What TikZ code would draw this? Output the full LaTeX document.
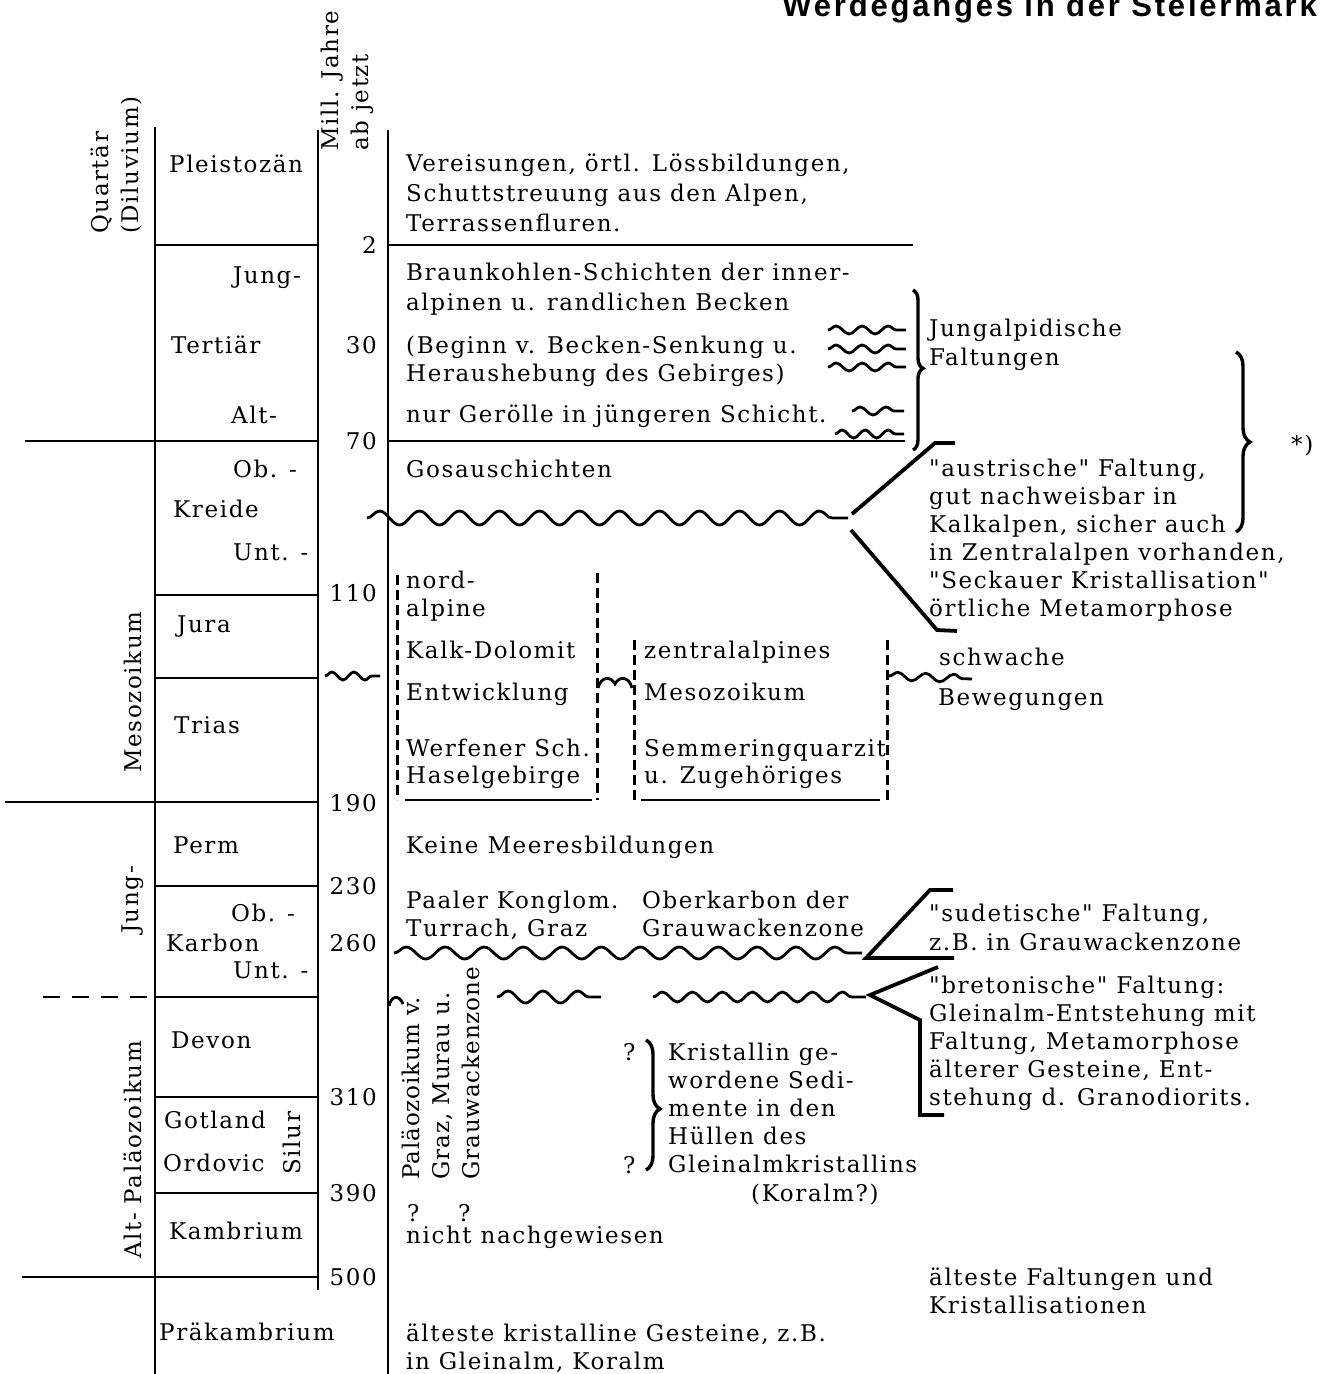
\documentclass[tikz,border=0pt]{standalone}
\usepackage{fontspec}
\setmainfont{DejaVu Serif}[Ligatures=TeXOff, LetterSpace=7]
\newfontfamily\titlefont{Liberation Sans}[LetterSpace=9]
\usetikzlibrary{decorations.pathmorphing,decorations.pathreplacing}

\begin{document}
\begin{tikzpicture}[x=1pt, y=-1pt, line width=2.4pt,
	every node/.style={inner sep=0pt, font=\fontsize{23}{28}\selectfont},
	era node/.style={anchor=base west},
	num node/.style={anchor=east},
	side node/.style={anchor=base west, align=left},
	up node/.style={rotate=90},
	wave line/.style 2 args={decorate, line width=2.8pt,
		decoration={snake, segment length=#1, amplitude=#2}},
	fold line/.style={line width=3.8pt, line join=miter},
	box line/.style={line width=3pt, dash pattern=on 10pt off 5pt},
	curly/.style 2 args={decorate, line width=3.4pt,
		decoration={brace, amplitude=#1, aspect=#2}}]

	\useasboundingbox (0,0) rectangle (1328,1374);

	\node[anchor=base east, font=\titlefont\bfseries\fontsize{31}{32}\selectfont] (title) at (1318,16) {Werdeganges in der Steiermark};

	% the columns
	\draw (155,127) -- (155,1374);
	\draw (318,130) -- (318,1290);
	\draw (388,130) -- (388,1374);
	\draw (155,245) -- (318,245) (388,245) -- (913,245);
	\draw (25,441) -- (318,441) (388,441) -- (905,441);
	\draw (155,595) -- (318,595);
	\draw (155,678) -- (318,678);
	\draw (5,802) -- (318,802);
	\draw (155,886) -- (318,886);
	\draw (155,997) -- (318,997);
	\draw[dash pattern=on 17pt off 12pt] (43,997) -- (155,997);
	\draw (155,1097) -- (318,1097);
	\draw (155,1193) -- (318,1193);
	\draw (22,1277) -- (318,1277);

	\node[up node, anchor=south west, align=left, font=\fontsize{23}{30}\selectfont] (quart) at (143,235) {Quartär\\(Diluvium)};
	\node[up node] (meso) at (133,692) {Mesozoikum};
	\node[up node] (pjung) at (133,900) {Jung-};
	\node[up node] (palt) at (133,1150) {Alt- Paläozoikum};
	\node[up node, anchor=south west, align=left, font=\fontsize{23}{30}\selectfont] (mill) at (375,152) {Mill. Jahre\\ab jetzt};

	\node[era node] (pleist) at (168,172) {Pleistozän};
	\node[era node, anchor=base east] (tjung) at (302,283) {Jung-};
	\node[era node] (tert) at (170,353) {Tertiär};
	\node[era node] (talt) at (230,423) {Alt-};
	\node[era node] (kob) at (232,477) {Ob. -};
	\node[era node] (kreide) at (172,517) {Kreide};
	\node[era node] (kunt) at (232,560) {Unt. -};
	\node[era node] (jura) at (176,632) {Jura};
	\node[era node] (trias) at (173,733) {Trias};
	\node[era node] (perm) at (172,853) {Perm};
	\node[era node] (cob) at (230,921) {Ob. -};
	\node[era node] (karbon) at (165,951) {Karbon};
	\node[era node] (cunt) at (232,978) {Unt. -};
	\node[era node] (devon) at (170,1048) {Devon};
	\node[era node] (gotl) at (163,1128) {Gotland};
	\node[era node] (ordo) at (162,1171) {Ordovic};
	\node[up node] (silur) at (292,1143) {Silur};
	\node[era node] (kamb) at (168,1239) {Kambrium};
	\node[era node] (praek) at (158,1340) {Präkambrium};

	\foreach \y/\t in {245/2, 345/30, 441/70, 593/110, 803/190, 886/230, 943/260, 1097/310, 1193/390, 1277/500}
		\node[num node] (n\t) at (378,\y) {\t};

	% events (base = last line)
	\node[side node, font=\fontsize{23}{30}\selectfont] (eis) at (405,231) {Vereisungen, örtl. Lössbildungen,\\Schuttstreuung aus den Alpen,\\Terrassenfluren.};
	\node[side node, font=\fontsize{23}{30}\selectfont] (braun) at (405,310) {Braunkohlen-Schichten der inner-\\alpinen u. randlichen Becken};
	\node[side node] (beginn) at (405,381) {(Beginn v. Becken-Senkung u.\\Heraushebung des Gebirges)};
	\node[side node] (geroell) at (405,422) {nur Gerölle in jüngeren Schicht.};
	\node[side node, font=\fontsize{23}{29}\selectfont] (jungalp) at (928,365) {Jungalpidische\\Faltungen};
	\node[side node] (stern) at (1290,452) {*)};
	\node[side node] (gosau) at (405,477) {Gosauschichten};
	\node[side node] (austr) at (928,616) {"austrische" Faltung,\\gut nachweisbar in\\Kalkalpen, sicher auch\\in Zentralalpen vorhanden,\\"Seckauer Kristallisation"\\örtliche Metamorphose};

	\node[side node] (nord) at (405,616) {nord-\\alpine};
	\node[side node] (kalk) at (405,658) {Kalk-Dolomit};
	\node[side node] (entw) at (405,700) {Entwicklung};
	\node[side node, font=\fontsize{23}{27}\selectfont] (werf) at (405,783) {Werfener Sch.\\Haselgebirge};
	\node[side node] (zentr) at (643,658) {zentralalpines};
	\node[side node] (mesoz) at (643,700) {Mesozoikum};
	\node[side node, font=\fontsize{23}{27}\selectfont] (semm) at (643,783) {Semmeringquarzit\\u. Zugehöriges};
	\node[side node] (schw) at (938,665) {schwache};
	\node[side node] (beweg) at (937,705) {Bewegungen};

	\node[side node] (keine) at (405,853) {Keine Meeresbildungen};
	\node[side node] (paaler) at (405,936) {Paaler Konglom.\\Turrach, Graz};
	\node[side node] (oberk) at (641,936) {Oberkarbon der\\Grauwackenzone};
	\node[side node, font=\fontsize{23}{29}\selectfont] (sudet) at (928,950) {"sudetische" Faltung,\\z.B. in Grauwackenzone};
	\node[side node] (breton) at (928,1105) {"bretonische" Faltung:\\Gleinalm-Entstehung mit\\Faltung, Metamorphose\\älterer Gesteine, Ent-\\stehung d. Granodiorits.};
	\node[up node, anchor=south west, align=left, font=\fontsize{23}{30}\selectfont\addfontfeature{LetterSpace=4}] (palaeo) at (481,1181) {Paläozoikum v.\\Graz, Murau u.\\Grauwackenzone};
	\node[side node] (q1) at (406,1221) {?};
	\node[side node] (q2) at (457,1221) {?};
	\node[side node] (q3) at (622,1060) {?};
	\node[side node] (q4) at (622,1173) {?};
	\node[side node] (krist) at (667,1172) {Kristallin ge-\\wordene Sedi-\\mente in den\\Hüllen des\\Gleinalmkristallins};
	\node[side node] (koralm) at (750,1201) {(Koralm?)};
	\node[side node] (nicht) at (405,1243) {nicht nachgewiesen};
	\node[side node] (aeltf) at (928,1313) {älteste Faltungen und\\Kristallisationen};
	\node[side node] (aeltk) at (405,1369) {älteste kristalline Gesteine, z.B.\\in Gleinalm, Koralm};

	% dashed boxes
	\draw[box line] (397,575) -- (397,800);
	\draw[box line] (597,573) -- (597,800);
	\draw (405,800) -- (592,800);
	\draw[box line] (634,640) -- (634,800);
	\draw[box line] (887,640) -- (887,800);
	\draw (641,800) -- (880,800);

	% unconformities
	\draw[wave line={26}{4}] (828,330) -- (906,330);
	\draw[wave line={26}{4}] (828,349) -- (906,349);
	\draw[wave line={26}{4}] (828,367) -- (906,367);
	\draw[wave line={26}{4}] (852,411) -- (904,411);
	\draw[wave line={23}{4}] (835,434) -- (904,434);
	\draw[wave line={40}{7}] (367,518) -- (848,518);
	\draw[wave line={22}{4}] (325,676) -- (380,676);
	\draw[line width=2.8pt] (598,688) .. controls (601,676) and (611,676) .. (615,684) .. controls (619,676) and (629,676) .. (632,688);
	\draw[wave line={28}{4}] (889,676) -- (972,679);
	\draw[wave line={39}{6}] (394,953) -- (862,953);
	\draw[line width=2.8pt] (389,1006) .. controls (391,996) and (399,994) .. (403,1004);
	\draw[wave line={35}{6}] (497,997) -- (601,997);
	\draw[wave line={30}{5}] (653,997) -- (866,997);

	\draw[fold line] (852,514) -- (935,443) -- (955,443);
	\draw[fold line] (851,530) -- (937,630) -- (957,631);
	\draw[fold line] (953,890) -- (930,890) -- (866,958) -- (954,958);
	\draw[fold line] (938,967) -- (870,995) -- (920,1020) -- (920,1115) -- (944,1115);

	\draw[curly={10}{0.49}] (913,290) -- (913,450);
	\draw[curly={14}{0.5}] (1236,352) -- (1236,532);
	\draw[curly={14}{0.53}] (646,1040) -- (646,1170);
\end{tikzpicture}
\end{document}
